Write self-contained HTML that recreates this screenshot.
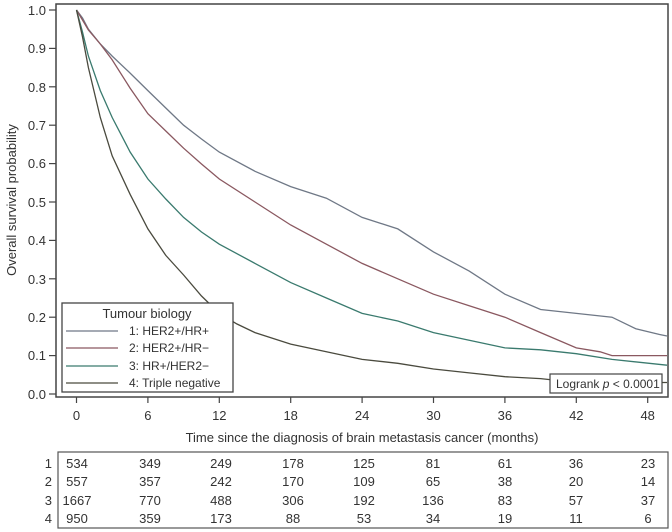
<!DOCTYPE html>
<html><head><meta charset="utf-8"><style>body{margin:0;background:#fff}svg{display:block}</style></head>
<body>
<svg width="672" height="532" xmlns="http://www.w3.org/2000/svg" font-family="Liberation Sans, sans-serif" font-size="13" fill="#333">
<rect x="56" y="4" width="612" height="393" fill="none" stroke="#444" stroke-width="1.5"/>
<g stroke="#444" stroke-width="1.2">
<line x1="49" y1="10" x2="56" y2="10"/><line x1="49" y1="48.4" x2="56" y2="48.4"/><line x1="49" y1="86.8" x2="56" y2="86.8"/><line x1="49" y1="125.2" x2="56" y2="125.2"/><line x1="49" y1="163.6" x2="56" y2="163.6"/><line x1="49" y1="202" x2="56" y2="202"/><line x1="49" y1="240.4" x2="56" y2="240.4"/><line x1="49" y1="278.8" x2="56" y2="278.8"/><line x1="49" y1="317.2" x2="56" y2="317.2"/><line x1="49" y1="355.6" x2="56" y2="355.6"/><line x1="49" y1="394" x2="56" y2="394"/>
<line x1="76.5" y1="397" x2="76.5" y2="403"/><line x1="147.9" y1="397" x2="147.9" y2="403"/><line x1="219.3" y1="397" x2="219.3" y2="403"/><line x1="290.7" y1="397" x2="290.7" y2="403"/><line x1="362.1" y1="397" x2="362.1" y2="403"/><line x1="433.5" y1="397" x2="433.5" y2="403"/><line x1="504.9" y1="397" x2="504.9" y2="403"/><line x1="576.3" y1="397" x2="576.3" y2="403"/><line x1="647.7" y1="397" x2="647.7" y2="403"/>
</g>
<g text-anchor="end">
<text x="46" y="15">1.0</text><text x="46" y="53">0.9</text><text x="46" y="92">0.8</text><text x="46" y="130">0.7</text><text x="46" y="168">0.6</text><text x="46" y="207">0.5</text><text x="46" y="245">0.4</text><text x="46" y="284">0.3</text><text x="46" y="322">0.2</text><text x="46" y="360">0.1</text><text x="46" y="399">0.0</text>
</g>
<g text-anchor="middle">
<text x="76.5" y="420">0</text><text x="147.9" y="420">6</text><text x="219.3" y="420">12</text><text x="290.7" y="420">18</text><text x="362.1" y="420">24</text><text x="433.5" y="420">30</text><text x="504.9" y="420">36</text><text x="576.3" y="420">42</text><text x="647.7" y="420">48</text>
<text x="362" y="442">Time since the diagnosis of brain metastasis cancer (months)</text>
<text transform="translate(16,200) rotate(-90)">Overall survival probability</text>
</g>
<g fill="none" stroke-width="1.3">
<polyline stroke="#6f7886" points="76.5,10 82.5,18 88.4,29.2 100.3,44 112.2,56.1 130,73 147.9,90.6 165.8,108 183.6,125.2 201.5,139 219.3,152.1 255,171.3 290.7,186.6 326.4,198.2 362.1,217.4 397.8,228.9 433.5,251.9 469.2,271.1 504.9,294.2 540.6,309.5 576.3,313.4 612,317.2 635.8,328.7 659.6,334.5 667,336"/>
<polyline stroke="#8a5860" points="76.5,10 82.5,20 88.4,30 100.3,44 112.2,59.9 130,88 147.9,113.7 165.8,131 183.6,148.2 201.5,164 219.3,179 255,202 290.7,225 326.4,244.2 362.1,263.4 397.8,278.8 433.5,294.2 469.2,305.7 504.9,317.2 540.6,332.6 576.3,347.9 600.1,351.8 612,355.6 667,355.6"/>
<polyline stroke="#3a7a6e" points="76.5,10 82.5,32.1 88.4,56.1 100.3,90.6 112.2,117.5 130.1,152 147.9,179 165.8,199 183.6,217.4 201.5,232 219.3,244.2 255,263.4 290.7,282.6 326.4,298 362.1,313.4 397.8,321 433.5,332.6 469.2,340.2 504.9,347.9 540.6,349.8 576.3,353.7 612,359.4 667,365.2"/>
<polyline stroke="#4a4a3e" points="76.5,10 82.5,36.9 88.4,67.6 100.3,117.5 112.2,155.9 130.1,194.3 147.9,228.9 165.8,255.4 183.6,275 201.5,296 219.3,313.4 237,324 255,332.6 290.7,344.1 326.4,351.8 362.1,359.4 397.8,363.3 433.5,369 469.2,372.9 504.9,376.7 540.6,378.6 576.3,382.5 667,382.5"/>
</g>
<rect x="62" y="303" width="171" height="89" fill="#fff" stroke="#444" stroke-width="1.3"/>
<text x="147" y="318" text-anchor="middle" font-size="13">Tumour biology</text>
<g stroke-width="1.3"><line x1="66" y1="331" x2="118" y2="331" stroke="#6f7886"/><line x1="66" y1="348" x2="118" y2="348" stroke="#8a5860"/><line x1="66" y1="366" x2="118" y2="366" stroke="#3a7a6e"/><line x1="66" y1="383" x2="118" y2="383" stroke="#4a4a3e"/></g>
<g font-size="12"><text x="129" y="335">1: HER2+/HR+</text><text x="129" y="352">2: HER2+/HR−</text><text x="129" y="370">3: HR+/HER2−</text><text x="129" y="387">4: Triple negative</text></g>
<rect x="550" y="374" width="112" height="19" fill="#fff" stroke="#444" stroke-width="1.2"/>
<text x="556" y="388" font-size="12">Logrank <tspan font-style="italic">p</tspan> &lt; 0.0001</text>
<rect x="58" y="452" width="610" height="76" fill="none" stroke="#555" stroke-width="1.2"/>
<g text-anchor="end"><text x="52" y="468">1</text><text x="52" y="486">2</text><text x="52" y="505">3</text><text x="52" y="523">4</text></g>
<g text-anchor="middle">
<text x="77" y="468">534</text><text x="150" y="468">349</text><text x="221" y="468">249</text><text x="293" y="468">178</text><text x="364" y="468">125</text><text x="433" y="468">81</text><text x="505" y="468">61</text><text x="576" y="468">36</text><text x="648" y="468">23</text>
<text x="77" y="486">557</text><text x="150" y="486">357</text><text x="221" y="486">242</text><text x="293" y="486">170</text><text x="364" y="486">109</text><text x="433" y="486">65</text><text x="505" y="486">38</text><text x="576" y="486">20</text><text x="648" y="486">14</text>
<text x="77" y="505">1667</text><text x="150" y="505">770</text><text x="221" y="505">488</text><text x="293" y="505">306</text><text x="364" y="505">192</text><text x="433" y="505">136</text><text x="505" y="505">83</text><text x="576" y="505">57</text><text x="648" y="505">37</text>
<text x="77" y="523">950</text><text x="150" y="523">359</text><text x="221" y="523">173</text><text x="293" y="523">88</text><text x="364" y="523">53</text><text x="433" y="523">34</text><text x="505" y="523">19</text><text x="576" y="523">11</text><text x="648" y="523">6</text>
</g>
</svg>
</body></html>
